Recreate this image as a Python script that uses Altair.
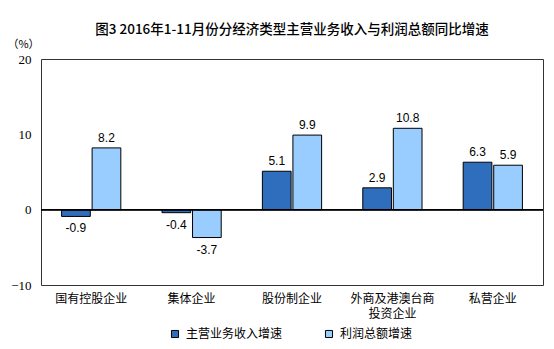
import altair as alt
import pandas as pd

categories = ["国有控股企业", "集体企业", "股份制企业", "外商及港澳台商投资企业", "私营企业"]
revenue_growth = [-0.9, -0.4, 5.1, 2.9, 6.3]
profit_growth = [8.2, -3.7, 9.9, 10.8, 5.9]
series_names = ["主营业务收入增速", "利润总额增速"]
series_colors = ["#2E6EBD", "#99CCFF"]
y_ticks = [-10, 0, 10, 20]
title_text = "图3 2016年1-11月份分经济类型主营业务收入与利润总额同比增速"

rows = []
for c, r, p in zip(categories, revenue_growth, profit_growth):
    rows.append({"cat": c, "series": series_names[0], "value": r})
    rows.append({"cat": c, "series": series_names[1], "value": p})
df = pd.DataFrame(rows)
df["label"] = df["value"].map(lambda v: f"{v:.1f}")

CJK = "Noto Sans CJK SC"

x_enc = alt.X(
    "cat:N",
    sort=categories,
    scale=alt.Scale(paddingInner=0.41, paddingOuter=0.205),
    axis=alt.Axis(
        title=None,
        labelAngle=0,
        labelFont=CJK,
        labelFontSize=12,
        labelColor="#000000",
        labelPadding=8,
        labelLineHeight=15,
        ticks=False,
        domain=False,
        labelExpr="datum.label == '外商及港澳台商投资企业' ? ['外商及港澳台商', '投资企业'] : datum.label",
    ),
)
y_scale = alt.Scale(domain=[-10, 20], nice=False)
xoff = alt.XOffset("series:N", sort=series_names, scale=alt.Scale(paddingInner=0.06))

bars = alt.Chart(df).mark_bar(stroke="#000000", strokeWidth=1).encode(
    x=x_enc,
    xOffset=xoff,
    y=alt.Y(
        "value:Q",
        scale=y_scale,
        axis=alt.Axis(
            values=y_ticks,
            title="（%）",
            titleAngle=0,
            titleX=-18,
            titleY=-15,
            titleAlign="center",
            titleBaseline="middle",
            titleFont=CJK,
            titleFontSize=11,
            titleFontWeight="normal",
            titleColor="#000000",
            labelFont="Liberation Serif",
            labelFontSize=13,
            labelColor="#000000",
            labelPadding=10,
            ticks=False,
            domain=False,
            grid=False,
        ),
    ),
    y2=alt.datum(0),
    color=alt.Color(
        "series:N",
        sort=series_names,
        scale=alt.Scale(domain=series_names, range=series_colors),
        legend=alt.Legend(
            title=None,
            orient="none",
            direction="horizontal",
            legendX=128,
            legendY=269,
            symbolType="square",
            symbolSize=50,
            symbolStrokeColor="#000000",
            symbolStrokeWidth=1,
            symbolOpacity=1,
            labelFont=CJK,
            labelFontSize=12,
            labelColor="#000000",
            labelOffset=5,
            columnPadding=40,
        ),
    ),
)

pos_labels = alt.Chart(df).transform_filter("datum.value >= 0").mark_text(
    baseline="bottom", dy=-3, font="Liberation Sans", fontSize=12, color="#000000"
).encode(x=alt.X("cat:N", sort=categories), xOffset=xoff, y=alt.Y("value:Q", scale=y_scale), text="label:N")

neg_labels = alt.Chart(df).transform_filter("datum.value < 0").mark_text(
    baseline="top", dy=7, font="Liberation Sans", fontSize=12, color="#000000"
).encode(x=alt.X("cat:N", sort=categories), xOffset=xoff, y=alt.Y("value:Q", scale=y_scale), text="label:N")

zero = alt.Chart(df).mark_rule(color="#000000", strokeWidth=1).encode(y=alt.datum(0))

chart = alt.layer(bars, zero, pos_labels, neg_labels).properties(
    width=502,
    height=226,
    title=alt.TitleParams(
        text=title_text,
        font=CJK,
        fontSize=13.5,
        fontWeight=500,
        color="#000000",
        anchor="middle",
        offset=2,
    ),
    autosize=alt.AutoSizeParams(type="none"),
    padding={"left": 41, "top": 59, "right": 11, "bottom": 64},
    background="white",
).configure_view(stroke="#333333", strokeWidth=1)

chart.save("out.html", embed_options={"renderer": "svg", "actions": False})
